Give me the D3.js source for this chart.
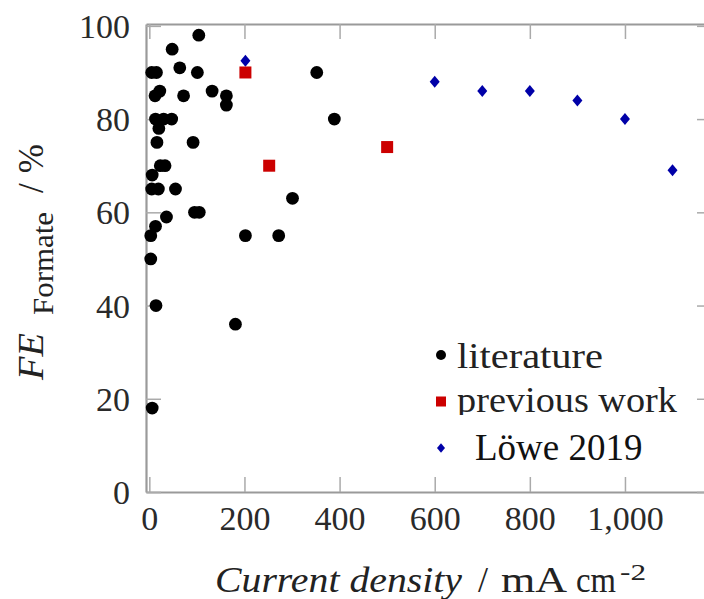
<!DOCTYPE html>
<html>
<head>
<meta charset="utf-8">
<script src="https://cdn.jsdelivr.net/npm/d3@7"></script>
<style>
  html, body { margin: 0; padding: 0; background: #fff; }
  svg { display: block; font-family: 'Liberation Serif', serif; }
</style>
</head>
<body>
<svg id="chart" width="704" height="599"></svg>
<script>
// Faradaic efficiency of formate vs current density
const literatureX = [104, 48, 5, 15, 64, 101, 352, 22, 12, 72, 132, 162, 162, 389,
    13, 30, 47, 20, 16, 92, 23, 33, 6, 5, 19, 55, 301, 95, 105, 36, 13, 3, 202,
    272, 3, 14, 181, 6];
const literatureY = [98, 95, 90, 90, 91, 90, 90, 86, 85, 85, 86, 85, 83, 80,
    80, 80, 80, 78, 75, 75, 70, 70, 68, 65, 65, 65, 63, 60, 60, 59, 57, 55, 55,
    55, 50, 40, 36, 18];

const previousX = [202, 252, 500];
const previousY = [90, 70, 74];

const loeweX = [202, 600, 700, 800, 900, 1000, 1100];
const loeweY = [92.5, 88, 86, 86, 84, 80, 69];

const xTicks = [0, 200, 400, 600, 800, 1000];
const yTicks = [0, 20, 40, 60, 80, 100];

const legendLabels = ["literature", "previous work", "Löwe 2019"];

const serif = "'Liberation Serif', 'Times New Roman', serif";
const svg = d3.select("#chart");

const x = d3.scaleLinear().domain([-7, 1183]).range([146, 712]);
const y = d3.scaleLinear().domain([0, 100.4]).range([492, 24]);

const frameColor = "#9a9a9a";
const tickColor = "#aaaaaa";
const red = "#cc0000";
const blue = "#0000a8";

// Axes: pgfplots style, ticks pointing inward on all four sides
const fmt = d3.format(",");

const axisBottomG = svg.append("g")
    .attr("transform", `translate(0,${y(0)})`)
    .call(d3.axisBottom(x).tickValues(xTicks).tickFormat(fmt)
        .tickSizeInner(-15).tickSizeOuter(0).tickPadding(15));

const axisTopG = svg.append("g")
    .attr("transform", `translate(0,${y.range()[1]})`)
    .call(d3.axisTop(x).tickValues(xTicks).tickFormat("")
        .tickSizeInner(-15).tickSizeOuter(0));

const axisLeftG = svg.append("g")
    .attr("transform", `translate(${x.range()[0]},0)`)
    .call(d3.axisLeft(y).tickValues(yTicks)
        .tickSizeInner(-15).tickSizeOuter(0).tickPadding(16));

const axisRightG = svg.append("g")
    .attr("transform", `translate(${x.range()[1]},0)`)
    .call(d3.axisRight(y).tickValues(yTicks).tickFormat("")
        .tickSizeInner(-15).tickSizeOuter(0));

[axisBottomG, axisTopG, axisLeftG, axisRightG].forEach((g) => {
    g.attr("font-family", null).attr("font-size", null);
    g.select(".domain").attr("stroke", frameColor).attr("stroke-width", 2.2);
    g.selectAll(".tick line").attr("stroke", tickColor).attr("stroke-width", 1.5);
    g.selectAll(".tick text")
        .style("font-family", serif)
        .style("font-size", "34px")
        .attr("fill", "#2a2a2a");
});
axisBottomG.selectAll(".tick text").attr("dy", "0.68em");
axisLeftG.selectAll(".tick text").attr("dy", "0.34em");

// Data marks
const diamond = (s) => `M0,${-s * 1.2}L${s},0L0,${s * 1.2}L${-s},0Z`;

svg.append("g").selectAll("circle")
    .data(literatureX.map((d, i) => [d, literatureY[i]]))
    .join("circle")
    .attr("cx", (d) => x(d[0]))
    .attr("cy", (d) => y(d[1]))
    .attr("r", 6.4)
    .attr("fill", "#000");

// Löwe drawn before previous work: square sits on top at 200 mA cm-2
svg.append("g").selectAll("path")
    .data(loeweX.map((d, i) => [d, loeweY[i]]))
    .join("path")
    .attr("transform", (d) => `translate(${x(d[0])},${y(d[1])})`)
    .attr("d", diamond(5))
    .attr("fill", blue);

svg.append("g").selectAll("rect")
    .data(previousX.map((d, i) => [d, previousY[i]]))
    .join("rect")
    .attr("x", (d) => x(d[0]) - 6)
    .attr("y", (d) => y(d[1]) - 6)
    .attr("width", 12)
    .attr("height", 12)
    .attr("fill", red);

// Legend (no frame)
const legend = svg.append("g").attr("transform", "translate(441,355)");
const rowGap = 46.5;

legend.append("circle").attr("cx", 0).attr("cy", 0).attr("r", 5).attr("fill", "#000");
legend.append("rect").attr("x", -5).attr("y", rowGap - 5)
    .attr("width", 10).attr("height", 10).attr("fill", red);
legend.append("path").attr("transform", `translate(0,${rowGap * 2})`)
    .attr("d", diamond(4)).attr("fill", blue);

legend.append("text").attr("x", 16).attr("y", 13)
    .style("font-family", serif).style("font-size", "36px").attr("fill", "#222")
    .attr("textLength", 146).attr("lengthAdjust", "spacingAndGlyphs")
    .text(legendLabels[0]);
legend.append("text").attr("x", 16).attr("y", rowGap + 10)
    .style("font-family", serif).style("font-size", "36px").attr("fill", "#222")
    .attr("textLength", 220).attr("lengthAdjust", "spacingAndGlyphs")
    .text(legendLabels[1]);

// Pasted-over label for the third entry
legend.append("rect").attr("x", 14).attr("y", 60)
    .attr("width", 212).attr("height", 62).attr("fill", "#fff");
legend.append("text").attr("x", 34).attr("y", 105)
    .style("font-family", serif).style("font-size", "37px").attr("fill", "#111")
    .text(legendLabels[2]);

// Axis labels: place pieces one after another
function chain(g, parts, start) {
    let pos = start;
    parts.forEach((p) => {
        const t = g.append("text")
            .attr("x", pos + (p.gap || 0))
            .attr("y", p.shift || 0)
            .attr("fill", "#222")
            .style("font-family", serif)
            .style("font-size", p.size + "px")
            .style("font-style", p.italic ? "italic" : "normal")
            .text(p.text);
        if (p.len) t.attr("textLength", p.len).attr("lengthAdjust", "spacingAndGlyphs");
        pos += (p.gap || 0) + (p.len || t.node().getComputedTextLength());
    });
    return pos;
}

const xLabel = svg.append("g").attr("transform", "translate(215,592)");
chain(xLabel, [
    {text: "Current density", size: 36, italic: true, len: 247},
    {text: "/", size: 36, gap: 16},
    {text: "mA", size: 36, gap: 13, len: 66},
    {text: "cm", size: 36, gap: 9, len: 40},
    {text: "-2", size: 24, gap: 4, shift: -12, len: 26}
], 0);

const yLabel = svg.append("g").attr("transform", "translate(43,380) rotate(-90)");
chain(yLabel, [
    {text: "FE", size: 35, italic: true, len: 47},
    {text: "Formate", size: 30, gap: 18, shift: 10, len: 103},
    {text: "/", size: 35, gap: 19},
    {text: "%", size: 35, gap: 10}
], 0);
</script>
</body>
</html>
